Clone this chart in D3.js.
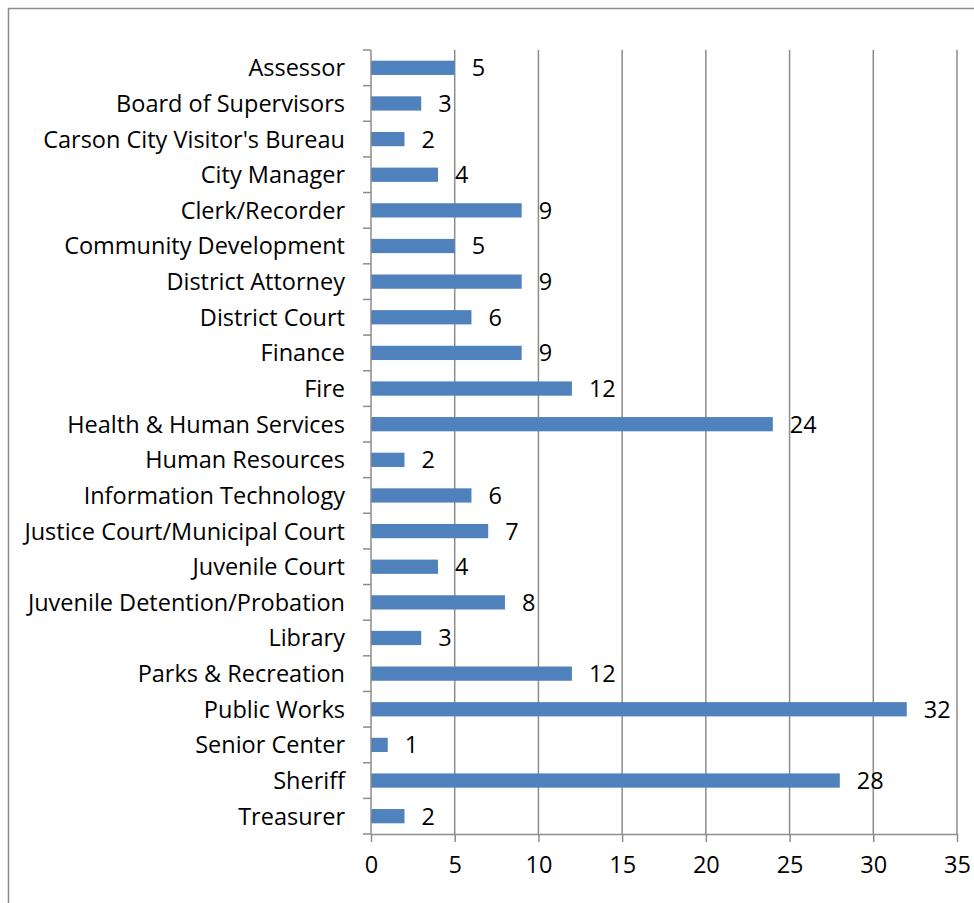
<!DOCTYPE html>
<html>
<head>
<meta charset="utf-8">
<script src="https://cdn.jsdelivr.net/npm/d3@7"></script>
<style>
  body { margin: 0; background: #fff; }
  text { font-family: "Open Sans", Lato, sans-serif; fill: #000; }
</style>
</head>
<body>
<script>
// Chart data
var departments = ["Assessor", "Board of Supervisors", "Carson City Visitor's Bureau", "City Manager",
  "Clerk/Recorder", "Community Development", "District Attorney", "District Court", "Finance", "Fire",
  "Health & Human Services", "Human Resources", "Information Technology", "Justice Court/Municipal Court",
  "Juvenile Court", "Juvenile Detention/Probation", "Library", "Parks & Recreation", "Public Works",
  "Senior Center", "Sheriff", "Treasurer"];
var counts = [5, 3, 2, 4, 9, 5, 9, 6, 9, 12, 24, 2, 6, 7, 4, 8, 3, 12, 32, 1, 28, 2];
var xTicks = [0, 5, 10, 15, 20, 25, 30, 35];

var data = departments.map(function(d, i) { return {name: d, value: counts[i]}; });

var W = 974, H = 903;
var margin = {top: 50, right: 17, bottom: 69, left: 371},
    width = W - margin.left - margin.right,
    height = H - margin.top - margin.bottom;
var fontSize = "23.5px";

var svg = d3.select("body").append("svg")
    .attr("width", W)
    .attr("height", H);

// outer chart frame
svg.append("rect")
    .attr("x", 8.5).attr("y", 8.5)
    .attr("width", W + 20).attr("height", H + 20)
    .attr("fill", "none")
    .attr("stroke", "#8c8c8c")
    .attr("stroke-width", 1.5);

var g = svg.append("g")
    .attr("transform", "translate(" + margin.left + "," + margin.top + ")");

var x = d3.scaleLinear().domain([0, 35]).range([0, width]);
var y = d3.scaleBand().domain(departments).range([0, height]).paddingInner(0.6).paddingOuter(0.3);

// vertical gridlines
g.append("g")
    .selectAll("line")
    .data(xTicks.slice(1))
    .enter().append("line")
    .attr("x1", function(d) { return x(d); })
    .attr("x2", function(d) { return x(d); })
    .attr("y1", 0)
    .attr("y2", height)
    .attr("stroke", "#8c8c8c")
    .attr("stroke-width", 1.5);

// bars
g.append("g")
    .selectAll("rect")
    .data(data)
    .enter().append("rect")
    .attr("x", 0)
    .attr("y", function(d) { return y(d.name); })
    .attr("width", function(d) { return x(d.value); })
    .attr("height", y.bandwidth())
    .attr("fill", "#4f81bd");

// value labels
g.append("g")
    .selectAll("text")
    .data(data)
    .enter().append("text")
    .attr("x", function(d) { return x(d.value) + 17; })
    .attr("y", function(d) { return y(d.name) + y.bandwidth() / 2; })
    .attr("dy", "0.36em")
    .style("font-size", fontSize)
    .text(function(d) { return d.value; });

// x axis
var xAxis = g.append("g")
    .attr("transform", "translate(0," + height + ")")
    .call(d3.axisBottom(x).tickValues(xTicks).tickSize(8).tickPadding(14).tickSizeOuter(0));

// y axis: ticks at category boundaries
var bounds = d3.range(departments.length + 1).map(function(i) { return i * height / departments.length; });
var yAxis = g.append("g");
yAxis.append("line")
    .attr("x1", 0).attr("x2", 0).attr("y1", 0).attr("y2", height)
    .attr("stroke", "#8c8c8c").attr("stroke-width", 1.5);
yAxis.selectAll("line.tk")
    .data(bounds)
    .enter().append("line")
    .attr("class", "tk")
    .attr("x1", -8).attr("x2", 0)
    .attr("y1", function(d) { return d; })
    .attr("y2", function(d) { return d; })
    .attr("stroke", "#8c8c8c").attr("stroke-width", 1.5);
yAxis.selectAll("text")
    .data(departments)
    .enter().append("text")
    .attr("x", -26)
    .attr("y", function(d) { return y(d) + y.bandwidth() / 2; })
    .attr("dy", "0.36em")
    .attr("text-anchor", "end")
    .style("font-size", fontSize)
    .text(function(d) { return d; });

xAxis.select(".domain").attr("stroke", "#8c8c8c").attr("stroke-width", 1.5);
xAxis.selectAll(".tick line").attr("stroke", "#8c8c8c").attr("stroke-width", 1.5);
xAxis.selectAll(".tick text")
    .style("font-size", fontSize)
    .style("font-family", "'Open Sans', Lato, sans-serif")
    .attr("fill", "#000");
</script>
</body>
</html>
